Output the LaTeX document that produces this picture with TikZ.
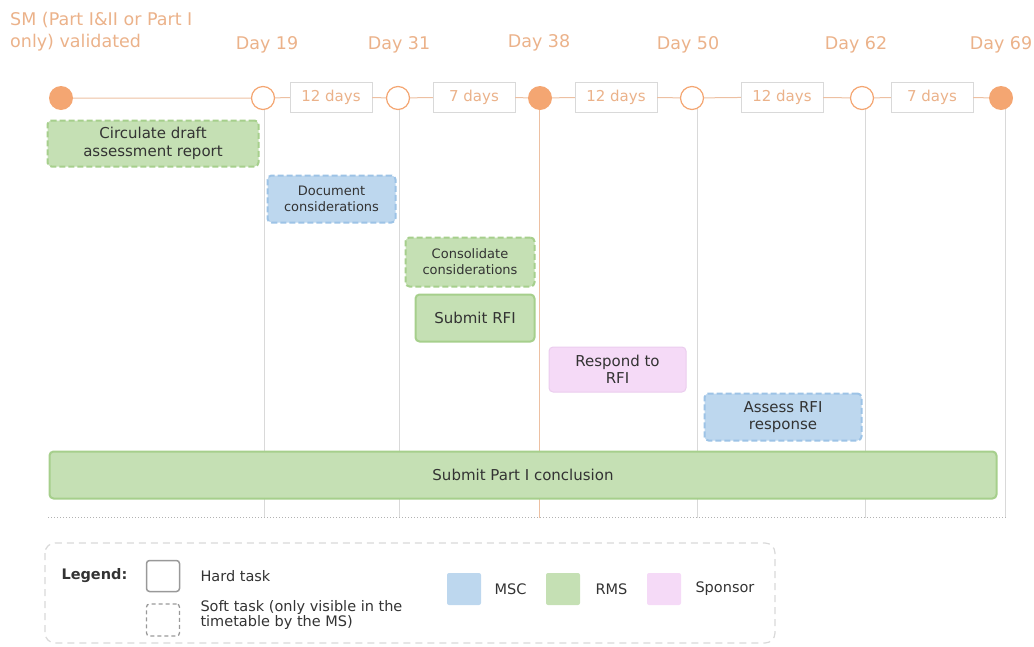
\documentclass[tikz,border=0pt]{standalone}
\usepackage{fontspec}
\setmainfont{DejaVu Sans}
\usetikzlibrary{positioning}
\definecolor{orfill}{HTML}{F4A672}
\definecolor{ortext}{HTML}{EBB28A}
\definecolor{orline}{HTML}{EDC0A2}
\definecolor{grfill}{HTML}{C5E0B4}
\definecolor{grline}{HTML}{A6CF8C}
\definecolor{blfill}{HTML}{BDD7EE}
\definecolor{blline}{HTML}{9DC3E6}
\definecolor{pkfill}{HTML}{F5DAF7}
\definecolor{pkline}{HTML}{EBCDEE}
\definecolor{txt}{HTML}{333333}
\definecolor{vline}{HTML}{D9D9D9}
\tikzset{
  milefill/.style={circle,fill=orfill,minimum size=24pt,inner sep=0pt},
  mileopen/.style={circle,draw=orfill,line width=1.2pt,fill=white,minimum size=23pt,inner sep=0pt},
  daylbl/.style={text=ortext,font=\fontsize{17.5}{21}\selectfont},
  durbox/.style={draw=vline,fill=white,text=ortext,minimum width=82pt,minimum height=30pt,inner sep=0pt,font=\fontsize{15}{18}\selectfont},
  task/.style={rounded corners=4pt,line width=2pt,text=txt,align=center,inner sep=0pt,font=\fontsize{15}{17.5}\selectfont},
  soft/.style={dashed,dash pattern=on 6pt off 3pt},
  grtask/.style={task,fill=grfill,draw=grline},
  bltask/.style={task,fill=blfill,draw=blline},
  pktask/.style={task,fill=pkfill,draw=pkline,line width=1pt},
  legtxt/.style={text=txt,font=\fontsize{14.5}{17}\selectfont,anchor=west,align=left},
  swatch/.style={rounded corners=2pt,minimum width=34pt,minimum height=32pt,inner sep=0pt}
}
\begin{document}
\begin{tikzpicture}[x=1pt,y=-1pt]
\useasboundingbox (0,0) rectangle (1034,646);
% vertical lines
\draw[vline,line width=0.8pt] (264,98) -- (264,518);
\draw[vline,line width=0.8pt] (399,98) -- (399,518);
\draw[vline,line width=0.8pt] (697,98) -- (697,518);
\draw[vline,line width=0.8pt] (865,98) -- (865,518);
\draw[vline,line width=0.8pt] (1005,98) -- (1005,518);
\draw[orline,line width=2.6pt] (540,98) -- (540,518);
\draw[white,line width=0.6pt] (540,110) -- (540,518);
\draw[gray!60,line width=1pt,dotted] (48,517) -- (1006,517);
% timeline
\node[milefill] (m0) at (61,98) {};
\node[mileopen] (m1) at (263,98) {};
\node[durbox] (d1) at (331,97) {12 days};
\node[mileopen] (m2) at (398,98) {};
\node[durbox] (d2) at (474,97) {7 days};
\node[milefill] (m3) at (540,98) {};
\node[durbox] (d3) at (616,97) {12 days};
\node[mileopen] (m4) at (692,98) {};
\node[durbox] (d4) at (782,97) {12 days};
\node[mileopen] (m5) at (862,98) {};
\node[durbox] (d5) at (932,97) {7 days};
\node[milefill] (m6) at (1001,98) {};
\draw[orline,line width=1pt] (m0) -- (m1) (m1) -- (d1) (d1) -- (m2) (m2) -- (d2) (d2) -- (m3)
  (m3) -- (d3) (d3) -- (m4) (m4) -- (d4) (d4) -- (m5) (m5) -- (d5) (d5) -- (m6);
% labels
\node[daylbl,anchor=north west,align=left,inner sep=0pt,font=\fontsize{17.5}{22}\selectfont] (sm) at (10,12) {SM (Part I\&II or Part I\\only) validated};
\node[daylbl] (l1) at (267,45) {Day 19};
\node[daylbl] (l2) at (399,45) {Day 31};
\node[daylbl] (l3) at (539,43) {Day 38};
\node[daylbl] (l4) at (688,45) {Day 50};
\node[daylbl] (l5) at (856,45) {Day 62};
\node[daylbl] (l6) at (1001,45) {Day 69};
% tasks
\node[grtask,soft,minimum width=211pt,minimum height=46pt] (t1) at (153,143.5) {Circulate draft\\assessment report};
\node[bltask,soft,minimum width=128pt,minimum height=47pt,font=\fontsize{13}{16}\selectfont] (t2) at (331.5,199) {Document\\considerations};
\node[grtask,soft,minimum width=129pt,minimum height=49pt,font=\fontsize{13}{16}\selectfont] (t3) at (470,262) {Consolidate\\considerations};
\node[grtask,minimum width=119pt,minimum height=47pt] (t4) at (475,318) {Submit RFI};
\node[pktask,minimum width=137pt,minimum height=45pt] (t5) at (617.5,369.5) {Respond to\\RFI};
\node[bltask,soft,minimum width=157pt,minimum height=47pt] (t6) at (783,417) {Assess RFI\\response};
\node[grtask,minimum width=947pt,minimum height=47pt] (t7) at (523,475) {Submit Part I conclusion};
% legend
\draw[vline,line width=1.2pt,dashed,dash pattern=on 7pt off 5pt,rounded corners=10pt] (45,543) rectangle (775,643);
\node[legtxt,font=\bfseries\fontsize{14.5}{17}\selectfont] (lg) at (58,576) {Legend:};
\node[draw=gray!80,line width=1.5pt,rounded corners=3pt,minimum width=33pt,minimum height=31pt,inner sep=0pt] (hb) at (163,576) {};
\node[legtxt] (ht) at (197,576) {Hard task};
\node[draw=gray!80,line width=1.3pt,dashed,dash pattern=on 4pt off 3pt,rounded corners=3pt,minimum width=33pt,minimum height=32pt,inner sep=0pt] (sb) at (163,620) {};
\node[legtxt] (st) at (197,615) {Soft task (only visible in the\\[-2pt]timetable by the MS)};
\node[swatch,fill=blfill] (s1) at (464,589) {};
\node[legtxt] (s1t) at (491,589) {MSC};
\node[swatch,fill=grfill] (s2) at (563,589) {};
\node[legtxt] (s2t) at (592,589) {RMS};
\node[swatch,fill=pkfill] (s3) at (664,589) {};
\node[legtxt] (s3t) at (692,589) {Sponsor};
\end{tikzpicture}
\end{document}
